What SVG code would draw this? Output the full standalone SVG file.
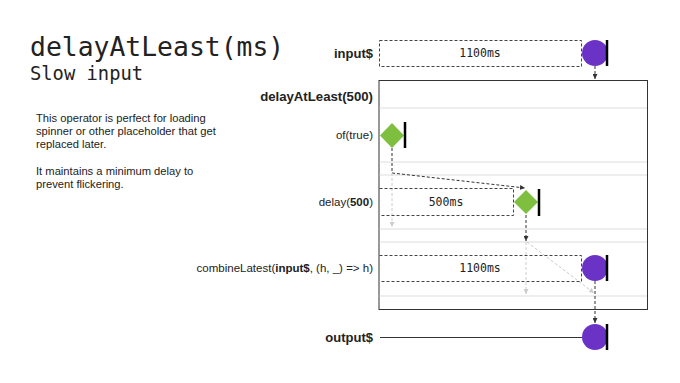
<svg xmlns="http://www.w3.org/2000/svg" width="680" height="383" viewBox="0 0 680 383">
<style>
.lbl{font-family:"Liberation Sans",Arial,sans-serif;font-size:11.5px;fill:#222;text-anchor:end}
.b{font-weight:bold}
.mono{font-family:"DejaVu Sans Mono","Liberation Mono",monospace;fill:#222}
.desc{font-family:"Liberation Sans",Arial,sans-serif;font-size:11.2px;fill:#222}
.dbox{fill:none;stroke:#444;stroke-width:1;stroke-dasharray:3,2}
.dash{fill:none;stroke:#333;stroke-width:1;stroke-dasharray:3,2}
.ldash{fill:none;stroke:#ccc;stroke-width:1;stroke-dasharray:3,2}
.grid{stroke:#ddd;stroke-width:1}
.purple{fill:#6a33c6}
.green{fill:#7fbf3f}
.bar{stroke:#000;stroke-width:2.5}
</style>
<defs>
<marker id="ah" viewBox="0 0 6 6" refX="6" refY="3" markerWidth="5" markerHeight="5" orient="auto"><path d="M0,0 L6,3 L0,6 z" fill="#333"/></marker>
<marker id="ahl" viewBox="0 0 6 6" refX="6" refY="3" markerWidth="5" markerHeight="5" orient="auto"><path d="M0,0 L6,3 L0,6 z" fill="#ccc"/></marker>
</defs>
<rect width="680" height="383" fill="#fff"/>
<g id="title">
<text x="30" y="56" class="mono" style="font-size:26.4px">delayAtLeast(ms)</text>
<text x="30" y="80" class="mono" style="font-size:18.8px">Slow input</text>
</g>
<g id="description">
<text class="desc" x="36" y="122">This operator is perfect for loading</text>
<text class="desc" x="36" y="135">spinner or other placeholder that get</text>
<text class="desc" x="36" y="148">replaced later.</text>
<text class="desc" x="36" y="175">It maintains a minimum delay to</text>
<text class="desc" x="36" y="188">prevent flickering.</text>
</g>
<g id="operator-box">
<rect x="379" y="80.5" width="268.5" height="229" fill="none" stroke="#333" stroke-width="1"/>
<line class="grid" x1="379.5" y1="108" x2="647" y2="108"/>
<line class="grid" x1="379.5" y1="162" x2="647" y2="162"/>
<line class="grid" x1="379.5" y1="175" x2="647" y2="175"/>
<line class="grid" x1="379.5" y1="229" x2="647" y2="229"/>
<line class="grid" x1="379.5" y1="242" x2="647" y2="242"/>
<line class="grid" x1="379.5" y1="296" x2="647" y2="296"/>
<text class="lbl b" x="373" y="101" style="font-size:13.2px">delayAtLeast(500)</text>
</g>
<g id="connectors">
<line class="dash" x1="595" y1="66" x2="595" y2="79" marker-end="url(#ah)"/>
<polyline class="dash" points="392,148 392,173 525,188" marker-end="url(#ah)"/>
<line class="ldash" x1="392" y1="173" x2="392" y2="227" marker-end="url(#ahl)"/>
<line class="dash" x1="526" y1="215" x2="526" y2="241" marker-end="url(#ah)"/>
<line class="ldash" x1="526" y1="242" x2="526" y2="294" marker-end="url(#ahl)"/>
<line class="ldash" x1="527" y1="242" x2="594" y2="293" marker-end="url(#ahl)"/>
<line class="dash" x1="595" y1="281" x2="595" y2="323" marker-end="url(#ah)"/>
</g>
<g id="input">
<text class="lbl b" x="373" y="58" style="font-size:13px">input$</text>
<rect class="dbox" x="379.5" y="40.5" width="202" height="26"/>
<text class="mono" x="480" y="57" text-anchor="middle" style="font-size:11.5px">1100ms</text>
<circle class="purple" cx="595" cy="53" r="13"/>
<line class="bar" x1="607" y1="40" x2="607" y2="66"/>
</g>
<g id="of-true">
<text class="lbl" x="373" y="139">of(true)</text>
<polygon class="green" points="392,123 404,135.5 392,148 380,135.5"/>
<line class="bar" x1="405" y1="122" x2="405" y2="148"/>
</g>
<g id="delay">
<text class="lbl" x="373" y="206">delay(<tspan class="b">500</tspan>)</text>
<polyline class="dbox" points="379.5,188.5 513.5,188.5 513.5,215.5 379.5,215.5"/>
<text class="mono" x="446" y="206" text-anchor="middle" style="font-size:11.5px">500ms</text>
<polygon class="green" points="526,190 538,202 526,214 514,202"/>
<line class="bar" x1="539" y1="189" x2="539" y2="216"/>
</g>
<g id="combineLatest">
<text class="lbl" x="373" y="272">combineLatest(<tspan class="b">input$</tspan>, (h, _) =&gt; h)</text>
<polyline class="dbox" points="379.5,255.5 581.5,255.5 581.5,281.5 379.5,281.5"/>
<text class="mono" x="480" y="272" text-anchor="middle" style="font-size:11.5px">1100ms</text>
<circle class="purple" cx="595" cy="268" r="13"/>
<line class="bar" x1="607" y1="255" x2="607" y2="281"/>
</g>
<g id="output">
<text class="lbl b" x="373" y="342" style="font-size:13px">output$</text>
<line x1="380" y1="337.5" x2="583" y2="337.5" stroke="#333" stroke-width="1"/>
<circle class="purple" cx="595" cy="337" r="13"/>
<line class="bar" x1="607" y1="324" x2="607" y2="350"/>
</g>
</svg>
